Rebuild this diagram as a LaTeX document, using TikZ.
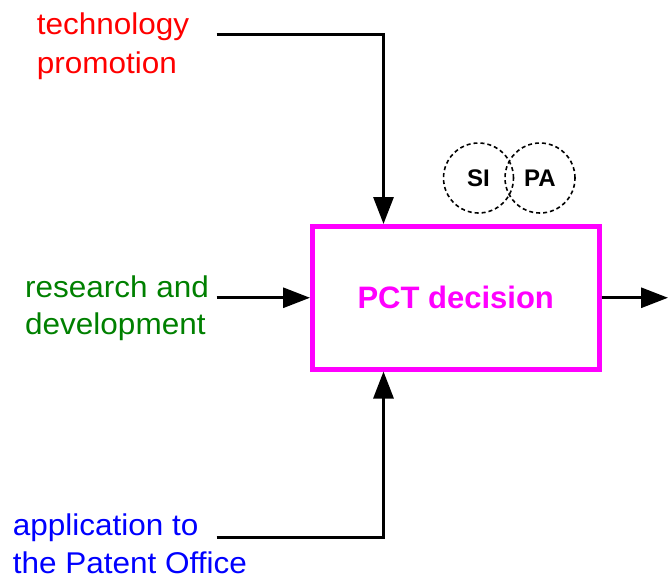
\documentclass[tikz,border=0pt]{standalone}
\usepackage{fontspec}
\usetikzlibrary{arrows.meta}
\newfontfamily\labfont[FakeStretch=1.05]{Liberation Sans}
\newfontfamily\pctfont{Liberation Sans}
\newfontfamily\circfont{Liberation Sans}
\definecolor{cred}{RGB}{255,0,0}
\definecolor{cgreen}{RGB}{0,128,0}
\definecolor{cblue}{RGB}{0,0,255}
\definecolor{cmag}{RGB}{255,0,255}
\tikzset{
  lab/.style={anchor=base west, inner sep=0pt, font=\labfont\fontsize{30}{36}\selectfont},
  conn/.style={line width=3pt, -{Triangle[length=27pt,width=20pt]}},
  pctbox/.style={draw=cmag, line width=5pt, minimum width=286.5pt, minimum height=142.5pt, inner sep=0pt,
    text=cmag, font=\pctfont\bfseries\fontsize{31}{36}\selectfont},
  circ/.style={circle, draw, dashed, dash pattern=on 4pt off 3pt, line width=1.6pt, minimum size=70pt, inner sep=0pt,
    font=\circfont\bfseries\fontsize{24}{28}\selectfont}
}
\begin{document}
\begin{tikzpicture}[x=1pt,y=-1pt]
\useasboundingbox (0,0) rectangle (668,578);
% box
\node[pctbox] (box) at (455.75,297.75) {PCT decision};
% circles
\node[circ] (si) at (478.5,178) {SI};
\node[circ] (pa) at (540,178) {PA};
% labels
\node[lab, text=cred] (tech1) at (36.7,34.5) {technology};
\node[lab, text=cred] (tech2) at (36.7,73) {promotion};
\node[lab, text=cgreen] (rd1) at (25,297.3) {research and};
\node[lab, text=cgreen] (rd2) at (25,334) {development};
\node[lab, text=cblue] (ap1) at (12.7,535.5) {application to};
\node[lab, text=cblue] (ap2) at (12.7,573) {the Patent Office};
% connector coordinates
\coordinate (tstart) at (216.5,34.5);
\coordinate (rstart) at (216.5,297.75);
\coordinate (astart) at (216.5,537);
\coordinate (colx) at (383.5,0);
\coordinate (outend) at (668,297.75);
% connectors
\draw[conn] (tstart) -| (box.north west -| colx);
\draw[conn] (rstart) -- (box.west);
\draw[conn] (astart) -| (box.south west -| colx);
\draw[conn] (box.east) -- (outend);
\end{tikzpicture}
\end{document}
